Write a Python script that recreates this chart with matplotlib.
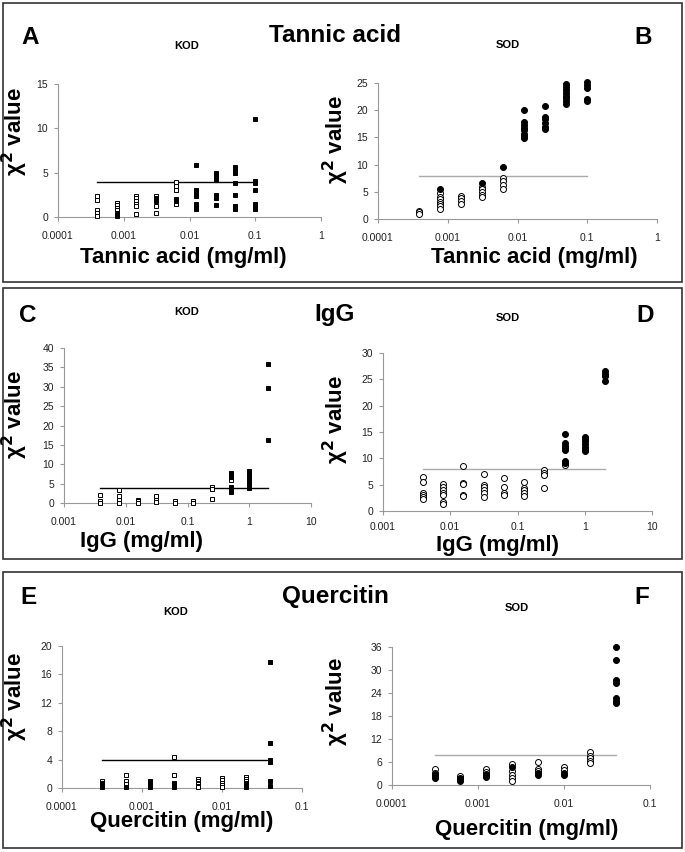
import matplotlib
matplotlib.use('Agg')
import matplotlib.pyplot as plt
import numpy as np
from matplotlib.patches import Rectangle
from matplotlib.ticker import FixedLocator, NullLocator

plt.rcParams['font.family'] = ['Liberation Sans', 'DejaVu Sans']

W, H = 685, 852

# ---- data ----
ta_conc = [0.000390625, 0.00078125, 0.0015625, 0.003125, 0.00625, 0.0125, 0.025, 0.05, 0.1]
igg_conc = [0.0039, 0.0078, 0.0156, 0.03125, 0.0625, 0.125, 0.25, 0.5, 1, 2]
qu_conc = [0.0003125, 0.000625, 0.00125, 0.0025, 0.005, 0.01, 0.02, 0.04]

a_open = [[2.4, 1.9, 0.8, 0.5, 0.1], [1.6, 1.3, 1.0, 0.8, 0.5], [2.4, 2.1, 1.8, 1.5, 1.2, 0.3],
          [2.4, 1.2, 0.5], [3.9, 3.5, 3.1, 1.5], [], [], [], []]
a_filled = [[], [0.4, 0.2, 0.1], [], [2.1, 1.8], [2.0, 1.8],
            [5.9, 3.1, 2.7, 2.4, 1.5, 1.1, 0.9], [5.0, 4.6, 4.2, 2.5, 2.1, 1.3],
            [5.6, 5.2, 5.0, 3.8, 2.5, 1.2, 0.9], [11.1, 4.1, 3.8, 3.0, 1.5, 1.2, 0.9]]
a_cut = 3.9

b_open = [[1.5, 1.2, 0.9], [4.7, 4.1, 3.7, 3.2, 2.7, 2.3, 1.8], [4.3, 3.8, 3.3, 2.7],
          [5.9, 5.5, 5.0, 4.5, 4.1], [7.6, 7.0, 6.3, 5.5], [], [], [], []]
b_filled = [[], [5.6], [], [6.6], [9.6],
            [20.0, 17.9, 17.3, 16.8, 16.3, 15.7, 15.3, 14.8],
            [20.8, 18.8, 18.3, 17.6, 16.9, 16.5],
            [24.9, 24.3, 23.7, 23.1, 22.7, 22.2, 21.7, 21.1],
            [25.2, 24.6, 24.0, 22.1, 21.7]]
b_cut = 7.9

c_open = [[2.1, 0.5, 0.1], [3.4, 1.9, 0.9, 0.1], [0.8, 0.4, 0.1], [1.9, 0.9, 0.2],
          [0.4, 0.1], [0.5, 0.1], [4.2, 3.5, 1.0], [5.9], [5.1], []]
c_filled = [[], [], [], [], [], [], [], [7.8, 7.2, 6.6, 4.2, 3.5, 2.9],
            [8.3, 7.7, 7.1, 6.4, 5.8, 4.4, 3.8], [35.9, 29.8, 16.3]]
c_cut = 4.0

d_open = [[6.5, 5.6, 3.5, 3.0, 2.6, 2.2], [5.1, 4.5, 3.9, 3.5, 3.0, 1.8, 1.3],
          [8.5, 5.3, 5.1, 3.0, 2.8], [7.0, 4.9, 4.5, 3.9, 3.4, 2.7], [6.2, 4.5, 3.4, 3.0],
          [5.6, 4.3, 3.9, 3.4, 2.8], [7.7, 7.3, 6.8, 4.3], [8.7], [], []]
d_filled = [[], [], [], [], [], [], [], [14.6, 13.0, 12.3, 11.9, 11.5, 9.5, 9.2],
            [14.1, 13.6, 13.2, 12.7, 12.2, 11.7, 11.3], [26.6, 26.1, 25.6, 24.7]]
d_cut = 7.9

e_open = [[1.0, 0.75], [1.9, 1.0, 0.55], [], [4.3, 1.9], [1.2, 1.0, 0.75, 0.5, 0.3, 0.1],
          [1.45, 1.1, 0.75, 0.4, 0.1], [1.5, 1.2, 1.0], []]
e_filled = [[0.55, 0.3, 0.1], [0.1], [1.0, 0.75, 0.5, 0.3, 0.1], [0.75, 0.4, 0.1], [], [],
            [0.75, 0.5, 0.3, 0.1], [17.7, 6.3, 3.9, 3.7, 1.0, 0.3]]
e_cut = 3.9

f_open = [[4.1, 3.2], [2.3, 1.5], [4.1, 3.5], [5.4, 3.7, 2.6, 1.9, 1.0], [6.1, 4.3, 3.7],
          [4.8, 3.9], [8.7, 7.6, 7.0, 6.3, 5.7], []]
f_filled = [[2.8, 2.3, 1.9], [1.9, 1.0], [3.0, 2.6, 2.0], [4.8], [3.2, 2.6], [3.2, 2.6], [],
            [36.1, 32.6, 27.4, 26.5, 22.6, 22.0, 21.3]]
f_cut = 7.8

xt_ta = [0.0001, 0.001, 0.01, 0.1, 1]
xt_ta_lab = ['0.0001', '0.001', '0.01', '0.1', '1']
xt_igg = [0.001, 0.01, 0.1, 1, 10]
xt_igg_lab = ['0.001', '0.01', '0.1', '1', '10']
xt_qu = [0.0001, 0.001, 0.01, 0.1]
xt_qu_lab = ['0.0001', '0.001', '0.01', '0.1']


def px(x, y):
    return x / W, 1 - y / H


def add_axes(l, t, r, b):
    return fig.add_axes([l / W, 1 - b / H, (r - l) / W, (b - t) / H])


def panel(ax, conc, opn, fil, cut, yticks, xticks, xlabels, kod, xpad=7):
    marker = 's' if kod else 'o'
    ms = 3.2 if kod else 4.3
    for c, vals in zip(conc, opn):
        ax.plot([c] * len(vals), vals, linestyle='none', marker=marker, ms=ms,
                mfc='white', mec='black', mew=0.7, clip_on=False, zorder=3)
    for c, vals in zip(conc, fil):
        ax.plot([c] * len(vals), vals, linestyle='none', marker=marker, ms=ms,
                mfc='black', mec='black', mew=0.7, clip_on=False, zorder=4)
    ax.plot([conc[0], conc[-1]], [cut, cut], color='black' if kod else '#aaaaaa', lw=1.0, zorder=2)
    ax.set_xscale('log')
    ax.set_xlim(xticks[0], xticks[-1])
    ax.set_ylim(yticks[0], yticks[-1])
    ax.xaxis.set_major_locator(FixedLocator(xticks))
    ax.set_xticklabels(xlabels)
    ax.xaxis.set_minor_locator(NullLocator())
    ax.set_yticks(yticks)
    for s in ['top', 'right']:
        ax.spines[s].set_visible(False)
    for s in ['left', 'bottom']:
        ax.spines[s].set_color('#999999')
        ax.spines[s].set_linewidth(0.8)
    ax.tick_params(direction='out', length=3, width=0.8, color='#999999',
                   labelsize=7.5, labelcolor='#222222', pad=4)
    ax.tick_params(axis='x', pad=xpad)


fig = plt.figure(figsize=(W / 100, H / 100), dpi=100)

# boxes
for (t, b) in [(3, 282), (288, 559), (572, 848)]:
    fig.patches.append(Rectangle(px(3, b), 679 / W, (b - t) / H, transform=fig.transFigure,
                                 fill=False, edgecolor='#333333', lw=1.2))

axA = add_axes(58, 84, 321, 217)
panel(axA, ta_conc, a_open, a_filled, a_cut, [0, 5, 10, 15], xt_ta, xt_ta_lab, True)
axB = add_axes(378, 83, 657, 219)
panel(axB, ta_conc, b_open, b_filled, b_cut, [0, 5, 10, 15, 20, 25], xt_ta, xt_ta_lab, False)
axC = add_axes(64, 348, 311, 503)
panel(axC, igg_conc, c_open, c_filled, c_cut, list(range(0, 41, 5)), xt_igg, xt_igg_lab, True)
axD = add_axes(383, 353, 652, 511)
panel(axD, igg_conc, d_open, d_filled, d_cut, list(range(0, 31, 5)), xt_igg, xt_igg_lab, False,
      xpad=5)
axE = add_axes(62, 646, 302, 788)
panel(axE, qu_conc, e_open, e_filled, e_cut, [0, 4, 8, 12, 16, 20], xt_qu, xt_qu_lab, True)
axF = add_axes(392, 647, 650, 785)
panel(axF, qu_conc, f_open, f_filled, f_cut, [0, 6, 12, 18, 24, 30, 36], xt_qu, xt_qu_lab, False)

big = dict(fontsize=17.5, fontweight='bold', ha='center', va='center')
lab = dict(fontsize=16, fontweight='bold', ha='center', va='center')
small = dict(fontsize=8, fontweight='bold', ha='center', va='center')

# panel letters and titles
for txt, x, y in [('A', 30, 37), ('B', 643, 37), ('C', 28, 315), ('D', 645, 315),
                  ('E', 28, 597), ('F', 642, 597),
                  ('Tannic acid', 335, 35), ('IgG', 335, 315), ('Quercitin', 335, 597)]:
    fig.text(*px(x, y), txt, **big)

for txt, x, y in [('KOD', 187, 46), ('SOD', 508, 45), ('KOD', 187, 312), ('SOD', 508, 318),
                  ('KOD', 176, 612), ('SOD', 517, 608)]:
    fig.text(*px(x, y), txt, **small)

for txt, x, y in [('Tannic acid (mg/ml)', 183, 258), ('Tannic acid (mg/ml)', 534, 258),
                  ('IgG (mg/ml)', 142, 542), ('IgG (mg/ml)', 497, 545),
                  ('Quercitin (mg/ml)', 182, 822), ('Quercitin (mg/ml)', 527, 830)]:
    fig.text(*px(x, y), txt, **lab)

for x, y in [(15, 132), (336, 140), (15, 415), (336, 420), (15, 697), (336, 702)]:
    fig.text(*px(x, y), 'χ$^{\\mathbf{2}}$ value', rotation=90, **lab)

fig.savefig('out.png', dpi=100)
